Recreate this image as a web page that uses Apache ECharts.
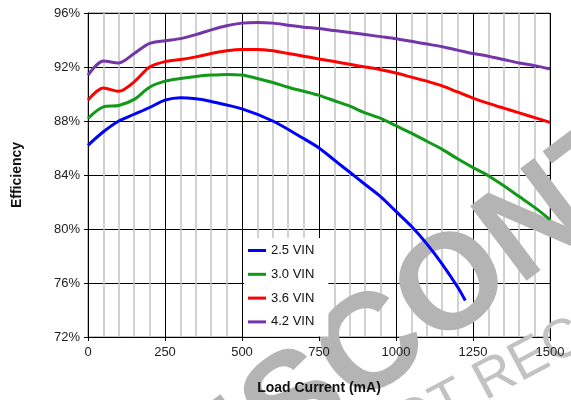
<!DOCTYPE html>
<html>
<head>
<meta charset="utf-8">
<script src="https://cdn.jsdelivr.net/npm/echarts@6/dist/echarts.min.js"></script>
<style>html,body{margin:0;padding:0;background:#fff;}#c{width:571px;height:400px;}</style>
</head>
<body>
<div id="c"></div>
<script>
const seriesNames = ['2.5 VIN', '3.0 VIN', '3.6 VIN', '4.2 VIN'];
const seriesColors = ['#0000ff', '#11991a', '#ff0000', '#7335a8'];
const xTicks = [0, 250, 500, 750, 1000, 1250, 1500];
const yTicks = [72, 76, 80, 84, 88, 92, 96];

const xBlue = [0, 50, 100, 150, 200, 250, 300, 350, 400, 500, 600, 700, 750, 800, 850, 900, 950, 1000, 1050, 1100, 1150, 1200, 1225];
const vin25 = [86.2, 87.2, 88.0, 88.5, 89.0, 89.55, 89.73, 89.65, 89.45, 88.9, 88.0, 86.7, 86.0, 85.1, 84.2, 83.3, 82.4, 81.3, 80.2, 78.9, 77.4, 75.7, 74.7];

const xFull = [0, 50, 100, 150, 200, 250, 300, 350, 400, 450, 500, 550, 600, 650, 700, 750, 800, 850, 900, 950, 1000, 1050, 1100, 1150, 1200, 1250, 1300, 1350, 1400, 1450, 1500];
const vin30 = [88.2, 89.05, 89.15, 89.6, 90.5, 90.95, 91.15, 91.3, 91.4, 91.45, 91.4, 91.15, 90.85, 90.5, 90.2, 89.9, 89.5, 89.1, 88.6, 88.2, 87.65, 87.1, 86.5, 85.9, 85.2, 84.55, 83.95, 83.2, 82.4, 81.6, 80.7];
const vin36 = [89.55, 90.45, 90.2, 90.9, 92.0, 92.4, 92.55, 92.75, 93.0, 93.2, 93.3, 93.3, 93.2, 93.0, 92.8, 92.6, 92.4, 92.2, 92.0, 91.8, 91.55, 91.25, 90.95, 90.6, 90.15, 89.7, 89.3, 88.95, 88.6, 88.25, 87.9];
const vin42 = [91.4, 92.45, 92.3, 93.0, 93.75, 93.95, 94.1, 94.4, 94.75, 95.05, 95.25, 95.3, 95.25, 95.1, 94.95, 94.85, 94.7, 94.55, 94.4, 94.25, 94.1, 93.9, 93.7, 93.5, 93.25, 93.0, 92.8, 92.55, 92.3, 92.1, 91.85];

const xTitle = 'Load Current (mA)';
const yTitle = 'Efficiency';
const watermark1 = 'DISCONTINUED';
const watermark2 = 'NOT RECOMMENDED FOR NEW DESIGNS';

const zip = (xs, ys) => xs.map((x, i) => [x, ys[i]]);
const seriesData = [zip(xBlue, vin25), zip(xFull, vin30), zip(xFull, vin36), zip(xFull, vin42)];

const FONT = '"Liberation Sans", Arial, sans-serif';
const xAxisBase = {
  type: 'value', min: xTicks[0], max: xTicks[xTicks.length - 1], interval: 250
};
const chart = echarts.init(document.getElementById('c'), null, {renderer: 'canvas'});
chart.setOption({
  animation: false,
  backgroundColor: '#fff',
  grid: {left: 88, right: 21, top: 13, bottom: 63, show: true, borderColor: '#808080', borderWidth: 1},
  legend: {
    orient: 'vertical', left: 244, top: 238,
    data: seriesNames,
    icon: 'rect', itemWidth: 18, itemHeight: 3, itemGap: 10.8,
    backgroundColor: '#fff', padding: [6, 14, 8, 4],
    textStyle: {fontFamily: FONT, fontSize: 13, color: '#111'}
  },
  xAxis: [Object.assign({}, xAxisBase, {
    z: 0,
    axisLine: {show: true, lineStyle: {color: '#000', width: 1}},
    axisTick: {show: true, length: 4, lineStyle: {color: '#000'}},
    axisLabel: {show: false},
    splitLine: {show: true, lineStyle: {color: '#000', width: 1}},
    minorTick: {show: false, splitNumber: 5},
    minorSplitLine: {show: true, lineStyle: {color: '#c4c4c4', width: 1.5}}
  }), Object.assign({}, xAxisBase, {
    z: 5, position: 'bottom',
    name: xTitle, nameLocation: 'middle', nameGap: 44,
    nameTextStyle: {fontFamily: FONT, fontSize: 14, fontWeight: 'bold', color: '#111'},
    axisLine: {show: false}, axisTick: {show: false}, splitLine: {show: false},
    axisLabel: {fontFamily: FONT, fontSize: 13, color: '#222', margin: 9, formatter: v => String(v)}
  })],
  yAxis: {
    type: 'value', min: yTicks[0], max: yTicks[yTicks.length - 1], interval: 4,
    name: yTitle, nameLocation: 'middle', nameGap: 64, nameRotate: 90,
    nameTextStyle: {fontFamily: FONT, fontSize: 14, fontWeight: 'bold', color: '#111'},
    axisLine: {show: true, lineStyle: {color: '#000', width: 1}},
    axisTick: {show: true, length: 4, lineStyle: {color: '#000'}},
    axisLabel: {fontFamily: FONT, fontSize: 13, color: '#222', margin: 8, formatter: '{value}%'},
    splitLine: {show: true, lineStyle: {color: '#000', width: 1}}
  },
  graphic: [
    {type: 'text', x: 566, y: 204, rotation: 37 * Math.PI / 180, z: 1, silent: true,
     style: {text: watermark1, font: 'bold 136px ' + FONT, fill: '#b4b4b4', align: 'center', verticalAlign: 'middle'}},
    {type: 'text', x: 362, y: 449, rotation: 28 * Math.PI / 180, z: 1, silent: true,
     style: {text: watermark2, font: '55px ' + FONT, fill: '#c2c2c2', align: 'left', verticalAlign: 'middle'}}
  ],
  series: seriesNames.map((n, i) => ({
    name: n, type: 'line', data: seriesData[i], smooth: 0.3, showSymbol: false, z: 3,
    lineStyle: {color: seriesColors[i], width: 3}, itemStyle: {color: seriesColors[i]}
  }))
});
</script>
</body>
</html>
